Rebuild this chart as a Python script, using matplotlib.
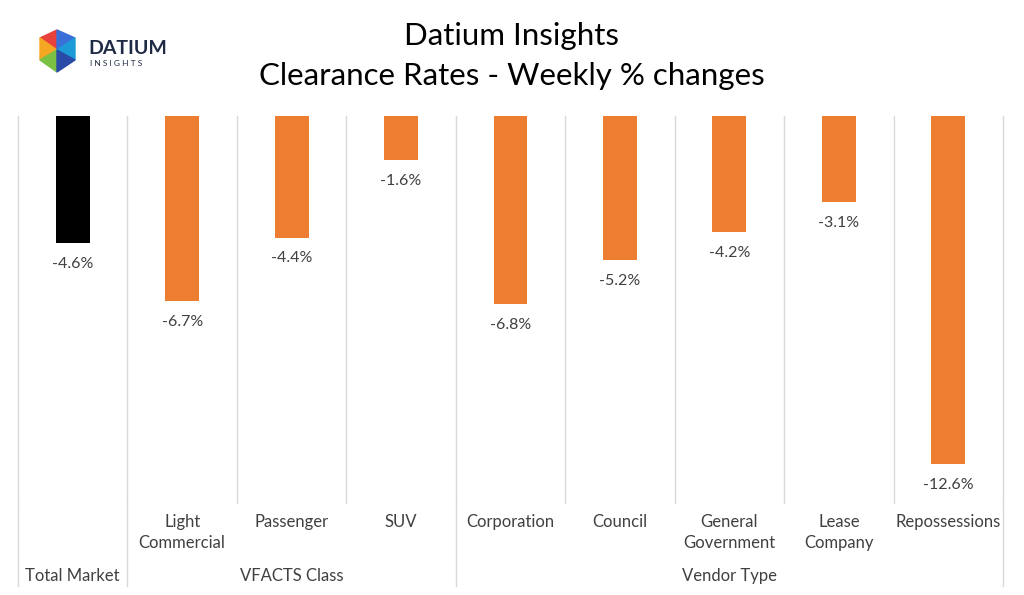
import matplotlib.pyplot as plt
from matplotlib.patches import Polygon

categories = ["", "Light\nCommercial", "Passenger", "SUV", "Corporation", "Council",
              "General\nGovernment", "Lease\nCompany", "Repossessions"]
values = [-4.6, -6.7, -4.4, -1.6, -6.8, -5.2, -4.2, -3.1, -12.6]
groups = [("Total Market", 0, 1), ("VFACTS Class", 1, 4), ("Vendor Type", 4, 9)]
colors = ["#000000"] + ["#ED7D31"] * 8

plt.rcParams["font.family"] = "Lato"
fig = plt.figure(figsize=(10.24, 5.95), dpi=100)
ax = fig.add_axes([18 / 1024, 1 - 503 / 595, 985 / 1024, 387 / 595])

x = list(range(len(values)))
ax.bar(x, values, width=0.31, color=colors)
for xi, v in zip(x, values):
    ax.text(xi, v - 0.5, f"{v:.1f}%", ha="center", va="top", fontsize=11.5, color="#404040")

ax.set_xlim(-0.5, len(values) - 0.5)
ax.set_ylim(-14.0, 0)
ax.axis("off")

grid = "#d9d9d9"
for b in range(len(values) + 1):
    xb = b - 0.5
    ax.plot([xb, xb], [0, -14.0], color=grid, lw=1, clip_on=False)
ends = {0, 1, 4, 9}
for b in ends:
    ax.plot([b - 0.5, b - 0.5], [-14.0, -17.0], color=grid, lw=1, clip_on=False)

for xi, c in zip(x, categories):
    ax.text(xi, -14.4, c, ha="center", va="top", fontsize=12, color="#404040",
            linespacing=1.35)
for name, a, b in groups:
    ax.text((a + b - 1) / 2, -16.65, name, ha="center", va="center", fontsize=12,
            color="#404040")

fig.text(0.5, 0.94, "Datium Insights", ha="center", va="center", fontsize=22.5)
fig.text(0.5, 0.872, "Clearance Rates - Weekly % changes", ha="center", va="center",
         fontsize=22.5)

# simple logo
tris = [
    ([(40, 38), (57, 30), (57, 50)], "#e8413b"),
    ([(40, 38), (57, 50), (40, 60)], "#f5a623"),
    ([(57, 30), (75, 38), (57, 50)], "#3b6fd8"),
    ([(75, 38), (75, 60), (57, 50)], "#1d9bd6"),
    ([(40, 60), (57, 50), (57, 72)], "#7ac143"),
    ([(57, 50), (75, 60), (57, 72)], "#2a4aa8"),
]
for pts, col in tris:
    fig.patches.append(Polygon([(px / 1024, 1 - py / 595) for px, py in pts],
                               closed=True, transform=fig.transFigure, color=col))
fig.text(88 / 1024, 1 - 48 / 595, "DATIUM", fontsize=14, color="#1f2a44",
         va="center", fontweight="bold")
fig.text(90 / 1024, 1 - 63 / 595, "I N S I G H T S", fontsize=6, color="#1f2a44",
         va="center")

fig.savefig("out.png", dpi=100)
